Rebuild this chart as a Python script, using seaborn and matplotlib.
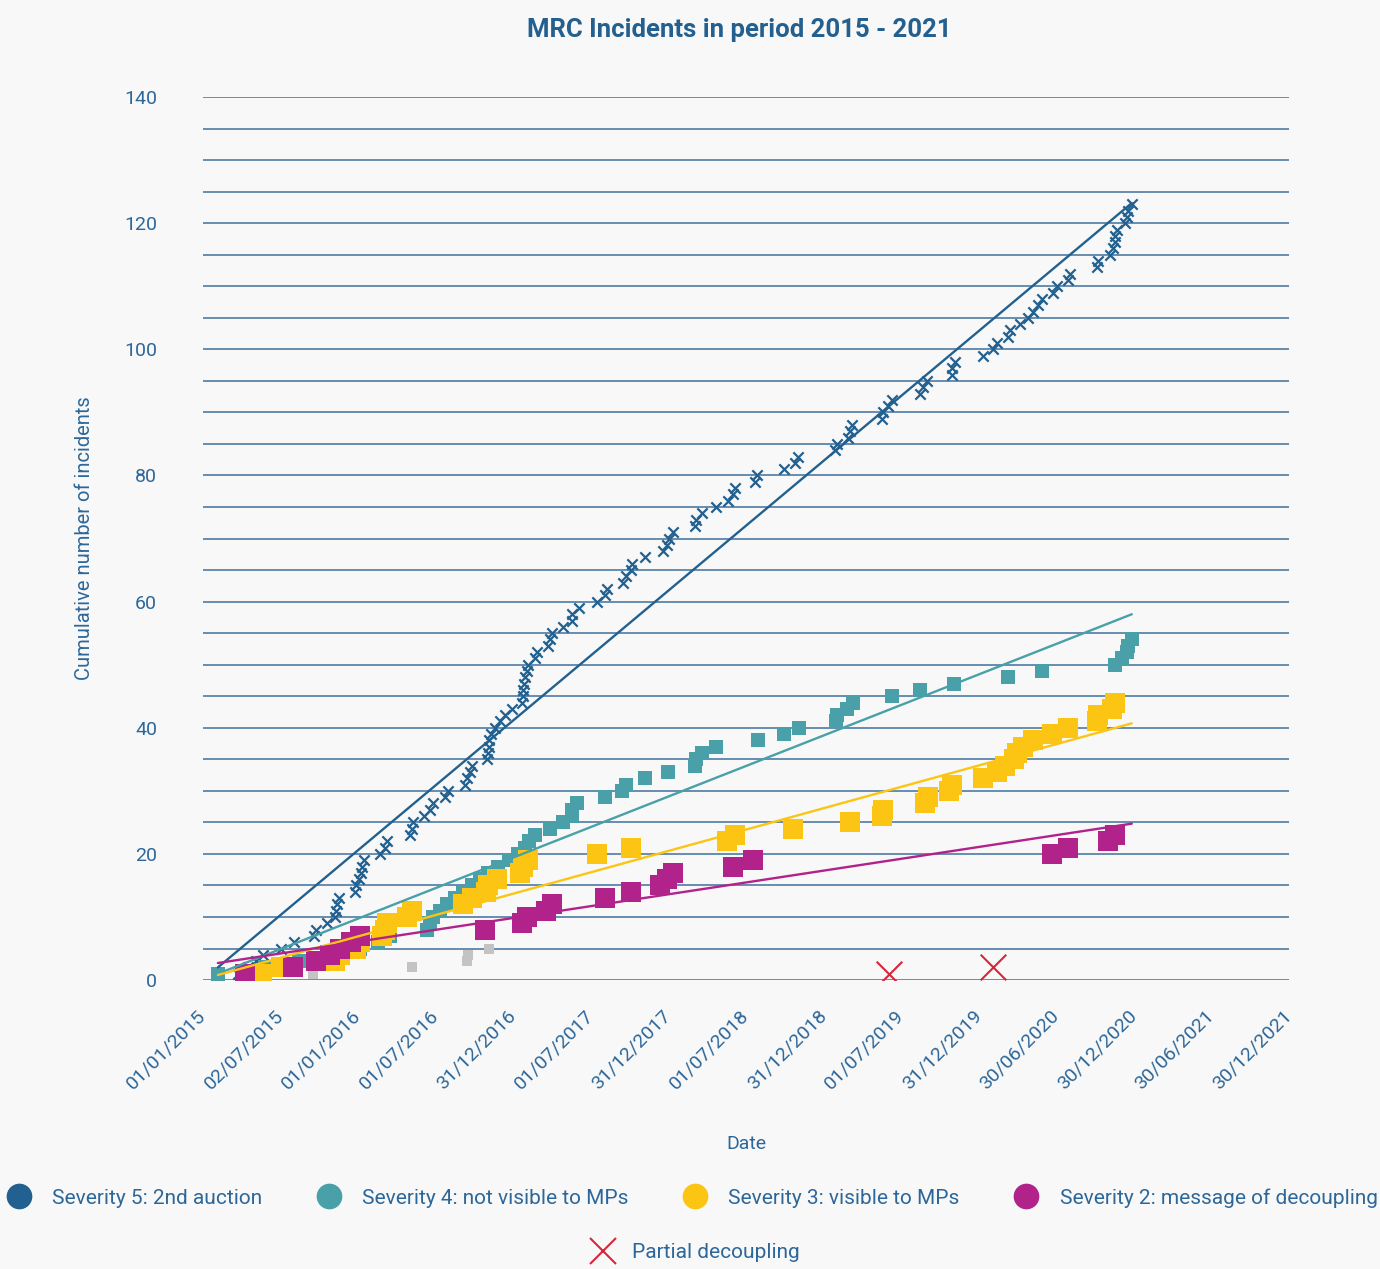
import pandas as pd
import numpy as np
import seaborn as sns
import matplotlib.pyplot as plt
from matplotlib.lines import Line2D

# -------------------------------
# Data (incident dates)
# -------------------------------
sev5_dates = [
    '2015-03-24', '2015-04-17', '2015-05-06', '2015-05-22', '2015-07-03', '2015-08-02', '2015-09-20', '2015-09-25', '2015-10-19', '2015-11-07',
    '2015-11-09', '2015-11-12', '2015-11-16', '2015-12-24', '2015-12-28', '2016-01-03', '2016-01-07', '2016-01-09', '2016-01-14', '2016-02-21',
    '2016-03-03', '2016-03-10', '2016-05-01', '2016-05-06', '2016-05-08', '2016-06-05', '2016-06-17', '2016-06-24', '2016-07-23', '2016-07-30',
    '2016-09-08', '2016-09-13', '2016-09-20', '2016-09-24', '2016-10-29', '2016-11-01', '2016-11-03', '2016-11-05', '2016-11-08', '2016-11-17',
    '2016-11-29', '2016-12-11', '2016-12-29', '2017-01-20', '2017-01-22', '2017-01-23', '2017-01-25', '2017-01-27', '2017-02-01', '2017-02-03',
    '2017-02-19', '2017-02-24', '2017-03-22', '2017-03-27', '2017-04-01', '2017-04-26', '2017-05-17', '2017-05-19', '2017-06-03', '2017-07-15',
    '2017-08-03', '2017-08-08', '2017-09-14', '2017-09-23', '2017-10-05', '2017-10-07', '2017-11-05', '2017-12-17', '2017-12-27', '2018-01-01',
    '2018-01-10', '2018-03-03', '2018-03-05', '2018-03-21', '2018-04-23', '2018-05-19', '2018-05-31', '2018-06-05', '2018-07-22', '2018-07-27',
    '2018-09-28', '2018-10-24', '2018-10-31', '2019-01-26', '2019-01-31', '2019-02-26', '2019-03-03', '2019-03-08', '2019-05-17', '2019-05-19',
    '2019-05-31', '2019-06-09', '2019-08-14', '2019-08-21', '2019-08-31', '2019-10-28', '2019-10-30', '2019-11-04', '2020-01-09', '2020-02-02',
    '2020-02-11', '2020-03-08', '2020-03-13', '2020-04-05', '2020-04-24', '2020-05-06', '2020-05-18', '2020-05-28', '2020-06-22', '2020-07-02',
    '2020-07-27', '2020-08-01', '2020-10-04', '2020-10-06', '2020-11-03', '2020-11-10', '2020-11-15', '2020-11-16', '2020-11-20', '2020-12-08',
    '2020-12-13', '2020-12-15', '2020-12-25']

sev4_dates = [
    '2015-02-05', '2015-05-26', '2015-08-16', '2015-11-07', '2016-01-05', '2016-02-16', '2016-03-15', '2016-06-10', '2016-06-17', '2016-06-24',
    '2016-07-11', '2016-07-27', '2016-08-15', '2016-09-03', '2016-09-24', '2016-10-13', '2016-11-01', '2016-11-24', '2016-12-22', '2017-01-10',
    '2017-01-27', '2017-02-07', '2017-02-19', '2017-03-27', '2017-04-26', '2017-05-17', '2017-05-19', '2017-05-31', '2017-08-03', '2017-09-12',
    '2017-09-23', '2017-11-05', '2017-12-29', '2018-03-03', '2018-03-05', '2018-03-21', '2018-04-23', '2018-07-29', '2018-09-28', '2018-11-02',
    '2019-01-28', '2019-01-31', '2019-02-23', '2019-03-10', '2019-06-09', '2019-08-14', '2019-11-02', '2020-03-08', '2020-05-27', '2020-11-15',
    '2020-12-02', '2020-12-13', '2020-12-15', '2020-12-25']

sev3_dates = [
    '2015-05-19', '2015-07-03', '2015-11-07', '2015-11-19', '2015-12-26', '2016-01-05', '2016-02-27', '2016-03-05', '2016-03-10', '2016-04-26',
    '2016-05-06', '2016-09-03', '2016-09-26', '2016-10-27', '2016-11-01', '2016-11-22', '2017-01-15', '2017-01-22', '2017-02-03', '2017-07-15',
    '2017-10-05', '2018-05-17', '2018-06-05', '2018-10-21', '2019-03-03', '2019-05-17', '2019-05-19', '2019-08-26', '2019-09-02', '2019-10-23',
    '2019-10-28', '2020-01-09', '2020-02-13', '2020-03-01', '2020-03-24', '2020-03-31', '2020-04-12', '2020-05-06', '2020-06-20', '2020-07-27',
    '2020-10-04', '2020-10-06', '2020-11-08', '2020-11-15']

sev2_dates = [
    '2015-04-09', '2015-07-31', '2015-09-25', '2015-10-26', '2015-11-19', '2015-12-16', '2016-01-05', '2016-10-25', '2017-01-20', '2017-02-01',
    '2017-03-19', '2017-04-01', '2017-08-03', '2017-10-05', '2017-12-10', '2017-12-27', '2018-01-10', '2018-05-31', '2018-07-17', '2020-06-20',
    '2020-07-27', '2020-10-30', '2020-11-15']

# small grey squares (no legend entry)
sev1_dates = ['2015-09-16', '2016-05-06', '2016-09-12', '2016-09-15', '2016-11-03']

partial_dates = ['2019-06-04', '2020-02-02']

# linear trend lines (start / end values)
trend_dates = ['2015-02-05', '2020-12-25']
sev5_trend = [2.0, 123.2]
sev4_trend = [1.0, 58.0]
sev3_trend = [0.8, 40.7]
sev2_trend = [2.7, 24.8]

x_tick_labels = ['01/01/2015', '02/07/2015', '01/01/2016', '01/07/2016', '31/12/2016',
                 '01/07/2017', '31/12/2017', '01/07/2018', '31/12/2018', '01/07/2019',
                 '31/12/2019', '30/06/2020', '30/12/2020', '30/06/2021', '30/12/2021']
y_ticks = [0, 20, 40, 60, 80, 100, 120, 140]
y_grid = list(range(0, 141, 5))

legend_labels = ['Severity 5: 2nd auction', 'Severity 4: not visible to MPs',
                 'Severity 3: visible to MPs', 'Severity 2: message of decoupling']
partial_label = 'Partial decoupling'

# -------------------------------
# Styling
# -------------------------------
C5, C4, C3, C2 = '#22618f', '#49a0a8', '#fcc413', '#b1228b'
GREY = '#c3c3c3'
RED = '#d7263a'
TXT = '#2d6799'
BG = '#f8f8f8'

sns.set_theme(style='white')
plt.rcParams['font.family'] = ['Roboto', 'DejaVu Sans']


def cumulative(dates, name):
    df = pd.DataFrame({'date': pd.to_datetime(dates), 'series': name})
    df = df.sort_values('date')
    df['count'] = df.groupby('series').cumcount() + 1
    return df


d5 = cumulative(sev5_dates, 's5')
d4 = cumulative(sev4_dates, 's4')
d3 = cumulative(sev3_dates, 's3')
d2 = cumulative(sev2_dates, 's2')
d1 = cumulative(sev1_dates, 's1')
dp = cumulative(partial_dates, 'p')

fig = plt.figure(figsize=(13.8, 12.69), dpi=100, facecolor=BG)
ax = fig.add_axes([0.1471, 0.2277, 0.787, 0.6958])
ax.set_facecolor(BG)

# markers
sns.scatterplot(data=d1, x='date', y='count', marker='s', s=42, color=GREY, linewidth=0, ax=ax, zorder=3)
sns.scatterplot(data=d5, x='date', y='count', marker='x', s=55, color=C5, linewidth=1.6, ax=ax, zorder=3)
sns.scatterplot(data=d4, x='date', y='count', marker='s', s=110, color=C4, linewidth=0, ax=ax, zorder=3)
sns.scatterplot(data=d3, x='date', y='count', marker='s', s=205, color=C3, linewidth=0, ax=ax, zorder=3)
sns.scatterplot(data=d2, x='date', y='count', marker='s', s=190, color=C2, linewidth=0, ax=ax, zorder=3)
sns.scatterplot(data=dp, x='date', y='count', marker='x', s=340, color=RED, linewidth=1.5, ax=ax, zorder=3)

# trend lines
tx = pd.to_datetime(trend_dates)
for vals, col in [(sev5_trend, C5), (sev4_trend, C4), (sev3_trend, C3), (sev2_trend, C2)]:
    sns.lineplot(x=tx, y=vals, color=col, lw=1.7, ax=ax, zorder=4)

# axes
x_ticks = pd.to_datetime(x_tick_labels, dayfirst=True)
ax.set_xlim(x_ticks[0], x_ticks[-1])
ax.set_ylim(0, 140)
ax.set_xticks(x_ticks)
ax.set_xticklabels(x_tick_labels, rotation=45, ha='right', va='center', rotation_mode='anchor')
ax.set_yticks(y_ticks)
ax.set_yticks(y_grid, minor=True)
ax.yaxis.grid(True, which='both', color='#3f709c', lw=1.1)
ax.xaxis.grid(False)
for sp in ax.spines.values():
    sp.set_visible(False)
ax.tick_params(axis='x', length=0, pad=23.5, labelsize=14, labelcolor=TXT)
ax.tick_params(axis='y', which='both', length=0, pad=33, labelsize=14, labelcolor=TXT)

ax.set_xlabel('Date', fontsize=14, color=TXT)
ax.xaxis.set_label_coords(0.5, -0.176)
ax.set_ylabel('Cumulative number of incidents', fontsize=14.5, color=TXT)
ax.yaxis.set_label_coords(-0.1004, 0.5)

fig.text(739 / 1380, 1 - 30 / 1269, 'MRC Incidents in period 2015 - 2021', ha='center', va='center',
         fontsize=18.5, fontweight='bold', color='#23608f')

# legend
handles = [Line2D([], [], marker='o', ls='none', markersize=18.5, color=c, markeredgewidth=0)
           for c in [C5, C4, C3, C2]]
leg1 = fig.legend(handles, legend_labels, loc='center', bbox_to_anchor=(0.5014, 1 - 1198 / 1269),
                  ncol=4, frameon=False, fontsize=15, handlelength=1.2, handletextpad=1.0,
                  columnspacing=2.6, labelcolor=TXT)
ph = Line2D([], [], marker='x', ls='none', markersize=18.5, color=RED, markeredgewidth=1.5)
leg2 = fig.legend([ph], [partial_label], loc='center', bbox_to_anchor=(0.504, 1 - 1253 / 1269),
                  frameon=False, fontsize=15, handlelength=1.2, handletextpad=0.8, labelcolor=TXT)

fig.savefig('out.png', dpi=100, facecolor=BG)
